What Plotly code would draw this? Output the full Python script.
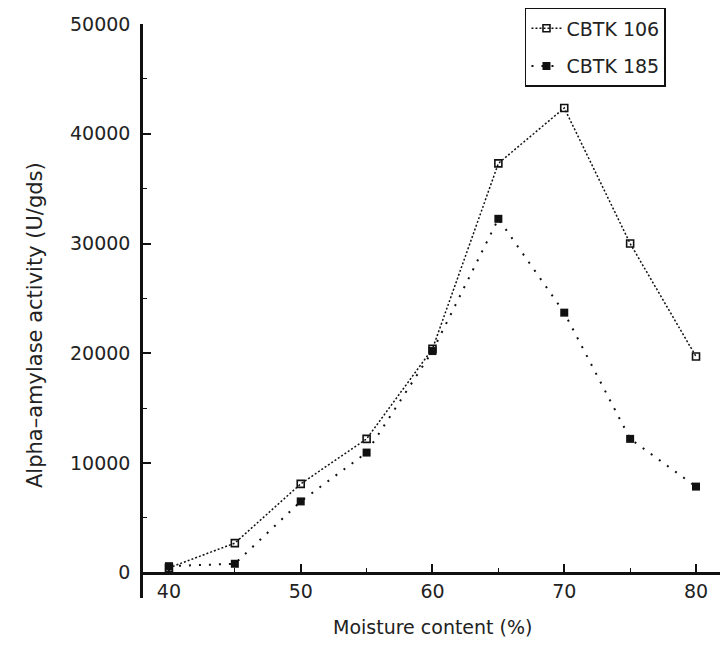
import plotly.graph_objects as go

moisture = [40, 45, 50, 55, 60, 65, 70, 75, 80]
cbtk106 = [450, 2700, 8100, 12200, 20400, 37300, 42350, 30000, 19700]
cbtk185 = [600, 820, 6500, 10950, 20200, 32250, 23700, 12200, 7850]

y_ticks = [0, 10000, 20000, 30000, 40000, 50000]
x_ticks = [40, 50, 60, 70, 80]

FONT = "DejaVu Sans"
TXT = "#222222"

fig = go.Figure()
fig.add_trace(go.Scatter(
    x=moisture, y=cbtk106, name="CBTK 106", mode="lines+markers", legendgroup="a",
    line=dict(color="#111111", width=1.5, dash="2px,2px"),
    marker=dict(symbol="square-open", size=7, color="#111111", line=dict(width=1.6, color="#111111")),
))
fig.add_trace(go.Scatter(
    x=moisture, y=cbtk185, name="CBTK 185", mode="lines+markers", legendgroup="b",
    line=dict(color="#111111", width=2, dash="2px,8px"),
    marker=dict(symbol="square", size=8, color="#111111"),
))

y0, y1 = -2300, 50000
xpos = (0 - y0) / (y1 - y0)

fig.update_layout(
    width=720, height=654,
    margin=dict(l=143, r=0, t=24, b=56),
    paper_bgcolor="white", plot_bgcolor="white",
    font=dict(family=FONT, size=19, color=TXT),
    showlegend=True,
    legend=dict(
        x=0.662, y=1.028, xanchor="left", yanchor="top",
        bordercolor="#111111", borderwidth=1.5, bgcolor="white",
        font=dict(family=FONT, size=19, color=TXT),
        tracegroupgap=10,
    ),
    xaxis=dict(
        range=[38.03, 81.82], showgrid=False, zeroline=False,
        showline=True, linecolor="#111111", linewidth=3,
        anchor="free", position=xpos,
        tickmode="array", tickvals=x_ticks, ticktext=[str(v) for v in x_ticks],
        ticks="inside", ticklen=8, tickwidth=1.5, tickcolor="#111111",
        minor=dict(dtick=5, tick0=40, ticks="inside", ticklen=4, tickwidth=1.2, tickcolor="#111111"),
        tickfont=dict(family=FONT, size=19, color=TXT),
    ),
    yaxis=dict(
        range=[y0, y1], showgrid=False, zeroline=False,
        showline=True, linecolor="#111111", linewidth=2.5,
        tickmode="array", tickvals=y_ticks, ticktext=[str(v) for v in y_ticks],
        ticks="inside", ticklen=8, tickwidth=1.5, tickcolor="#111111",
        minor=dict(dtick=5000, tick0=0, ticks="inside", ticklen=4, tickwidth=1.2, tickcolor="#111111"),
        tickfont=dict(family=FONT, size=19, color=TXT),
        ticklabelstandoff=6,
    ),
    annotations=[
        dict(text="Moisture content (%)", xref="paper", yref="paper",
             x=(432 - 143) / 577, y=-(627 - 598) / 574, xanchor="center", yanchor="middle",
             showarrow=False, font=dict(family=FONT, size=19, color=TXT)),
        dict(text="Alpha\u2013amylase activity (U/gds)", xref="paper", yref="paper",
             x=-(143 - 35) / 577, y=(598 - 325) / 574, xanchor="center", yanchor="middle",
             textangle=-90, showarrow=False, font=dict(family=FONT, size=21, color=TXT)),
    ],
)

fig.write_html("out.html")
